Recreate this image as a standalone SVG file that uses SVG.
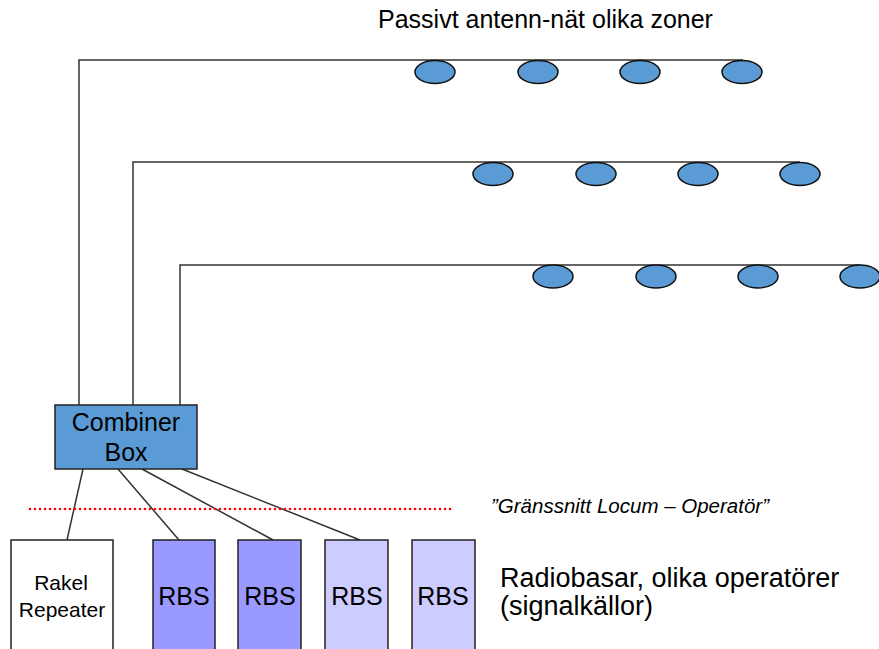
<svg xmlns="http://www.w3.org/2000/svg" width="879" height="649" viewBox="0 0 879 649">
<style>
text{font-family:"Liberation Sans",Arial,sans-serif;fill:#000}
.feed{fill:none;stroke:#333;stroke-width:1.5}
.ant{fill:#5b9bd5;stroke:#111;stroke-width:1.5}
.box{stroke:#222;stroke-width:1.5}
.lbl{font-size:25px;text-anchor:middle}
</style>
<rect width="879" height="649" fill="#fff"/>
<text x="378" y="28" font-size="25">Passivt antenn-nät olika zoner</text>
<g id="connectors">
<polyline class="feed" points="79,405 79,60 743,60"/>
<polyline class="feed" points="133,405 133,162 800,162"/>
<polyline class="feed" points="180,405 180,265 860,265"/>
<line class="feed" x1="83" y1="469" x2="67" y2="540"/>
<line class="feed" x1="118" y1="469" x2="179" y2="540"/>
<line class="feed" x1="142" y1="469" x2="273" y2="540"/>
<line class="feed" x1="182" y1="469" x2="360" y2="540"/>
</g>
<g id="antennas-zone1">
<ellipse class="ant" cx="435" cy="72" rx="20" ry="11.5"/>
<ellipse class="ant" cx="538" cy="72" rx="20" ry="11.5"/>
<ellipse class="ant" cx="640" cy="72" rx="20" ry="11.5"/>
<ellipse class="ant" cx="742" cy="72" rx="20" ry="11.5"/>
</g>
<g id="antennas-zone2">
<ellipse class="ant" cx="493" cy="174" rx="20" ry="11.5"/>
<ellipse class="ant" cx="596" cy="174" rx="20" ry="11.5"/>
<ellipse class="ant" cx="698" cy="174" rx="20" ry="11.5"/>
<ellipse class="ant" cx="800" cy="174" rx="20" ry="11.5"/>
</g>
<g id="antennas-zone3">
<ellipse class="ant" cx="553" cy="276.5" rx="20" ry="11.5"/>
<ellipse class="ant" cx="656" cy="276.5" rx="20" ry="11.5"/>
<ellipse class="ant" cx="758" cy="276.5" rx="20" ry="11.5"/>
<ellipse class="ant" cx="860" cy="276.5" rx="20" ry="11.5"/>
</g>
<g id="combiner-box">
<rect class="box" x="55" y="405" width="142" height="64" fill="#5b9bd5"/>
<text class="lbl" x="126" y="431">Combiner</text>
<text class="lbl" x="126" y="461">Box</text>
</g>
<g id="interface">
<line x1="30" y1="509" x2="452" y2="509" stroke="#ff0000" stroke-width="2.6" stroke-linecap="round" stroke-dasharray="0 5"/>
<text x="491" y="513" font-size="20.5" font-style="italic">”Gränssnitt Locum – Operatör”</text>
</g>
<g id="rakel-repeater">
<rect class="box" x="11" y="540" width="102" height="130" fill="#fff"/>
<text x="61" y="590" font-size="21" text-anchor="middle">Rakel</text>
<text x="62" y="617" font-size="21" text-anchor="middle">Repeater</text>
</g>
<g id="rbs1">
<rect class="box" x="153" y="540" width="62" height="130" fill="#9999ff"/>
<text class="lbl" x="184" y="605">RBS</text>
</g>
<g id="rbs2">
<rect class="box" x="238" y="540" width="63" height="130" fill="#9999ff"/>
<text class="lbl" x="270" y="605">RBS</text>
</g>
<g id="rbs3">
<rect class="box" x="325" y="540" width="63" height="130" fill="#ccccff"/>
<text class="lbl" x="357" y="605">RBS</text>
</g>
<g id="rbs4">
<rect class="box" x="412" y="540" width="63" height="130" fill="#ccccff"/>
<text class="lbl" x="443" y="605">RBS</text>
</g>
<g id="rbs-label">
<text x="500" y="587" font-size="27">Radiobasar, olika operatörer</text>
<text x="500" y="615" font-size="27">(signalkällor)</text>
</g>
</svg>
